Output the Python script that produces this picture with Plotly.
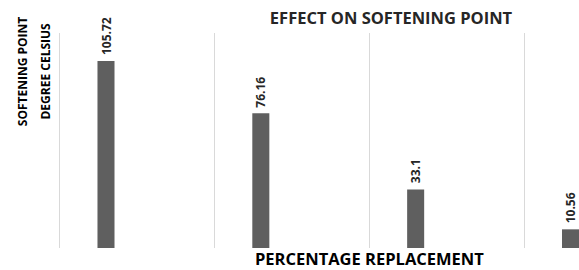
import plotly.graph_objects as go

categories = ["A", "B", "C", "D"]
softening_point = [105.72, 76.16, 33.1, 10.56]
value_labels = ["105.72", "76.16", "33.1", "10.56"]

title_text = "EFFECT ON SOFTENING POINT"
x_title = "PERCENTAGE REPLACEMENT"
y_title_lines = ["SOFTENING POINT", "DEGREE CELSIUS"]

FONT = "Open Sans"
L = 57.5
BAR_W = 0.11
BAR_OFF = -0.255

fig = go.Figure()
fig.add_trace(go.Bar(
    x=categories,
    y=softening_point,
    marker=dict(color="#5f5f5f", line=dict(width=0)),
    width=BAR_W,
    offset=BAR_OFF,
    hoverinfo="skip",
))

# value labels above bars
for i, (v, lab) in enumerate(zip(softening_point, value_labels)):
    fig.add_annotation(x=i + BAR_OFF + BAR_W / 2, y=v, xref="x", yref="y",
                       text="<b>" + lab + "</b>", showarrow=False, textangle=-90,
                       xanchor="center", yanchor="bottom", yshift=4,
                       font=dict(family=FONT, size=12, color="#262626"))

fig.update_layout(
    width=579, height=270,
    margin=dict(l=L, r=0, t=33, b=22),
    paper_bgcolor="white", plot_bgcolor="white",
    showlegend=False,
    title=dict(text="<b>" + title_text + "</b>", x=391/579, xref="container", xanchor="center",
               y=1 - 18/270, yref="container", yanchor="middle",
               font=dict(family=FONT, size=16.5, color="#262626")),
    font=dict(family=FONT),
)
fig.update_xaxes(
    type="category", range=[-0.51, 2.855], tickson="boundaries",
    showgrid=True, gridcolor="#d9d9d9", gridwidth=1,
    showticklabels=False, ticks="", showline=False, zeroline=False,
)
fig.update_yaxes(
    range=[0, 121.6], showgrid=False, showticklabels=False, ticks="",
    showline=False, zeroline=False,
)

W = 579 - L
# axis titles
fig.add_annotation(text="<b>" + x_title + "</b>", xref="paper", yref="paper",
                   x=(369 - L) / W, y=(248 - 258.5) / 215, showarrow=False,
                   xanchor="center", yanchor="middle", borderpad=0,
                   font=dict(family=FONT, size=16.5, color="#000000"))
for xpix, line in zip([21.7, 44.0], y_title_lines):
    fig.add_annotation(text="<b>" + line + "</b>", xref="paper", yref="paper",
                       x=(xpix - L) / W, y=(248 - 71) / 215, showarrow=False,
                       textangle=-90, xanchor="center", yanchor="middle",
                       font=dict(family=FONT, size=12, color="#000000"))

fig.write_html("out.html", config={"displayModeBar": False},
               post_script="document.body.style.margin='0px';")
